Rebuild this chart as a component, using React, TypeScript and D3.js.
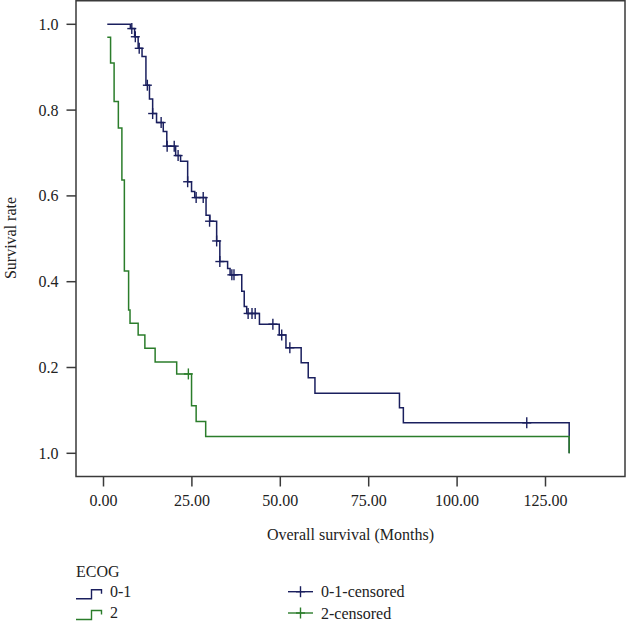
import React from "react";
import * as d3 from "d3";

// ECOG 0-1 survival steps (time in months, survival after the step)
const ecog01Times = [1.07, 7.6, 8.8, 9.8, 10.9, 12.0, 13.0, 13.9, 15.0, 16.9, 17.9, 20.4, 21.8, 23.8, 24.9, 25.8, 29.0, 30.1, 32.0, 32.9, 35.1, 35.8, 39.1, 39.8, 40.5, 44.1, 49.7, 51.6, 55.9, 57.9, 59.8, 83.7, 84.8, 131.7];
const ecog01Surv = [1.0, 0.99, 0.971, 0.944, 0.925, 0.858, 0.826, 0.792, 0.771, 0.75, 0.716, 0.694, 0.681, 0.633, 0.61, 0.596, 0.555, 0.541, 0.495, 0.447, 0.431, 0.416, 0.378, 0.342, 0.326, 0.301, 0.276, 0.246, 0.211, 0.176, 0.14, 0.106, 0.071, 0.0];
const ecog01CensorTimes = [8.0, 9.0, 10.1, 12.4, 13.9, 16.3, 18.0, 20.0, 21.1, 23.8, 26.2, 28.2, 30.0, 32.0, 32.9, 36.3, 36.9, 40.9, 42.0, 42.9, 47.9, 50.4, 52.7, 119.7];
const ecog01CensorSurv = [0.99, 0.971, 0.944, 0.858, 0.792, 0.771, 0.716, 0.716, 0.694, 0.633, 0.596, 0.596, 0.541, 0.495, 0.447, 0.416, 0.416, 0.326, 0.326, 0.326, 0.301, 0.276, 0.246, 0.071];

// ECOG 2 survival steps
const ecog2Times = [1.07, 2.0, 3.0, 4.2, 5.2, 5.9, 7.1, 7.5, 9.8, 11.7, 14.6, 20.7, 24.9, 26.2, 28.9, 131.7];
const ecog2Surv = [0.97, 0.91, 0.82, 0.758, 0.637, 0.425, 0.334, 0.303, 0.276, 0.245, 0.213, 0.185, 0.111, 0.074, 0.039, 0.0];
const ecog2CensorTimes = [24.0];
const ecog2CensorSurv = [0.185];

const xTicks = [0, 25, 50, 75, 100, 125];
const xTickLabels = ["0.00", "25.00", "50.00", "75.00", "100.00", "125.00"];
const yTicks = [1.0, 0.8, 0.6, 0.4, 0.2, 0.0];
const yTickLabels = ["1.0", "0.8", "0.6", "0.4", "0.2", "1.0"];

const NAVY = "#1a1f5e";
const GREEN = "#2b7d2b";
const FRAME = "#3a3a3a";
const FONT = "'Liberation Serif', 'Times New Roman', serif";

export default function App() {
  const x = d3.scaleLinear().domain([0, 125]).range([103.5, 545.5]);
  const y = d3.scaleLinear().domain([0, 1]).range([453.3, 24.3]);
  const line = d3
    .line<[number, number]>()
    .x((d) => x(d[0]))
    .y((d) => y(d[1]))
    .curve(d3.curveStepAfter);

  const navyPts = ecog01Times.map((t, i) => [t, ecog01Surv[i]] as [number, number]);
  const greenPts = ecog2Times.map((t, i) => [t, ecog2Surv[i]] as [number, number]);

  const frame = { left: 76, top: 0.75, right: 625, bottom: 476.5 };

  const cross = (cx: number, cy: number, color: string, key: string) => (
    <g key={key} stroke={color} strokeWidth={1.4}>
      <line x1={cx - 4.5} x2={cx + 4.5} y1={cy} y2={cy} />
      <line x1={cx} x2={cx} y1={cy - 5.5} y2={cy + 5.5} />
    </g>
  );

  const stepSym = (x0: number, cy: number, color: string) => (
    <path
      d={`M${x0},${cy + 7} H${x0 + 15.5} V${cy - 2} H${x0 + 25.5} V${cy + 2}`}
      fill="none"
      stroke={color}
      strokeWidth={1.4}
    />
  );

  return (
    <svg
      width={626}
      height={622}
      style={{ position: "absolute", left: 0, top: 0, background: "#fff" }}
      fontFamily={FONT}
    >
      <rect width={626} height={622} fill="#fff" />
      {/* frame */}
      <rect
        x={frame.left}
        y={frame.top}
        width={frame.right - frame.left}
        height={frame.bottom - frame.top}
        fill="none"
        stroke={FRAME}
        strokeWidth={1.5}
      />
      {/* y ticks */}
      {yTicks.map((v, i) => (
        <g key={"y" + i}>
          <line x1={66.5} x2={frame.left} y1={y(v)} y2={y(v)} stroke={FRAME} strokeWidth={1.5} />
          <text x={58.5} y={y(v) + 5.5} textAnchor="end" fontSize={16} fill="#222">
            {yTickLabels[i]}
          </text>
        </g>
      ))}
      {/* x ticks */}
      {xTicks.map((v, i) => (
        <g key={"x" + i}>
          <line x1={x(v)} x2={x(v)} y1={frame.bottom} y2={486.5} stroke={FRAME} strokeWidth={1.5} />
          <text x={x(v)} y={505.5} textAnchor="middle" fontSize={16} fill="#222">
            {xTickLabels[i]}
          </text>
        </g>
      ))}
      <text x={350.5} y={540} textAnchor="middle" fontSize={16} fill="#222">
        Overall survival (Months)
      </text>
      <text
        transform={`translate(15.5,238) rotate(-90)`}
        textAnchor="middle"
        fontSize={16}
        fill="#222"
      >
        Survival rate
      </text>

      {/* curves */}
      <path d={line(navyPts) ?? ""} fill="none" stroke={NAVY} strokeWidth={1.5} />
      <path d={line(greenPts) ?? ""} fill="none" stroke={GREEN} strokeWidth={1.5} />
      {ecog01CensorTimes.map((t, i) => cross(x(t), y(ecog01CensorSurv[i]), NAVY, "c1" + i))}
      {ecog2CensorTimes.map((t, i) => cross(x(t), y(ecog2CensorSurv[i]), GREEN, "c2" + i))}

      {/* legend */}
      <text x={76} y={577} fontSize={16} fill="#222">ECOG</text>
      {stepSym(76, 591.7, NAVY)}
      <text x={110} y={597} fontSize={16} fill="#222">0-1</text>
      {stepSym(76, 612.5, GREEN)}
      <text x={110} y={618} fontSize={16} fill="#222">2</text>
      {cross(300.5, 591.7, NAVY, "lg1")}
      <line x1={288} x2={313} y1={591.7} y2={591.7} stroke={NAVY} strokeWidth={1.4} />
      <text x={321} y={597} fontSize={16} fill="#222">0-1-censored</text>
      {cross(300.5, 613, GREEN, "lg2")}
      <line x1={288} x2={313} y1={613} y2={613} stroke={GREEN} strokeWidth={1.4} />
      <text x={321} y={618.5} fontSize={16} fill="#222">2-censored</text>
    </svg>
  );
}
